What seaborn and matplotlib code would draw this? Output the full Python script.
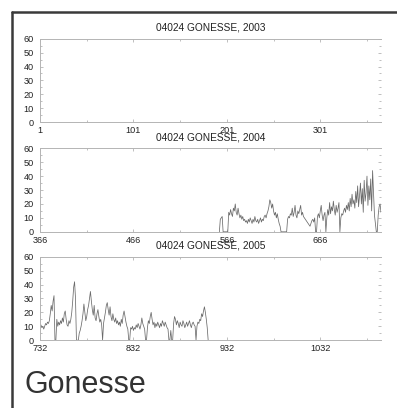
import numpy as np
import pandas as pd
import matplotlib
matplotlib.use("Agg")
import matplotlib.pyplot as plt
from matplotlib.lines import Line2D
from matplotlib.ticker import MultipleLocator, FixedLocator
import seaborn as sns

# Station / year panels
station = "04024 GONESSE"
years = [2003, 2004, 2005]
panel_start = [1, 366, 732]          # first day number shown on each panel
panel_ticks = [[1, 101, 201, 301], [366, 466, 566, 666], [732, 832, 932, 1032]]

# Daily values (day numbers counted from 1 Jan 2003)
start_2003 = None
values_2003 = []

start_2004 = 558
values_2004 = [
    0, 9, 10, 11,
    0, 0, 0, 0, 0, 0,
    14, 12, 16, 13, 11, 17, 15, 20, 14, 12, 17, 13, 10, 12, 9, 11, 8,
    9, 7, 8, 6, 9, 7, 10, 8, 6, 9, 7, 11, 8, 7, 9, 6, 8, 10, 7, 9, 8, 11, 12, 10, 13, 15,
    18, 23, 21, 17, 20,
    15, 12, 14, 10, 13, 9, 6, 4,
    0, 0, 0, 0, 0, 0, 0,
    9, 11, 10, 13, 12, 17, 11, 14, 19, 12, 10, 15, 13, 16, 19, 12,
    14, 11, 10, 9, 8, 7, 6, 5, 4, 6, 8, 9, 7, 10,
    0, 0,
    11, 13, 10, 15, 19, 12, 8, 12, 14,
    0,
    10, 16, 12, 21, 13, 18, 15, 22, 16, 12, 19, 14, 17, 21,
    0,
    10, 13, 12, 15, 17, 14, 19, 16, 21, 15, 24, 18, 27, 20, 23, 17, 29, 21, 33, 18,
    26, 35, 20, 31, 14, 37, 22, 28, 40, 19, 33, 23, 38, 15, 44, 28, 12, 6,
    0, 0,
    12, 18, 20, 14,
]

start_2005 = 732
values_2005 = [
    10, 11, 9, 10, 8, 10, 12, 11, 13, 12, 14, 19, 25, 21,
    28, 32,
    0, 0,
    15, 10, 13, 11, 14, 12, 16, 13, 19, 21, 15, 11, 10, 14, 12, 15, 20, 28, 38,
    42, 30,
    0, 0, 0,
    5, 7, 10, 14, 19, 26, 20, 14, 17, 22, 25, 30, 35, 28,
    22, 18, 25, 16, 14, 19, 22, 17, 13, 15, 11,
    0,
    12, 16, 20, 25, 27, 22, 18, 24, 17, 14, 19, 15,
    13, 16, 12, 14, 11, 13, 10, 15, 12, 18, 21, 17, 13, 10, 8,
    0, 0,
    9, 8, 10, 7, 9, 8, 11, 9, 12, 10, 8, 11, 16, 12, 10, 8,
    0, 0,
    9, 14, 12, 17, 20, 15, 11, 13, 9, 12, 10,
    13, 11, 9, 12, 10, 14, 12, 10, 13, 11, 9, 8,
    0, 0, 7, 0, 0,
    12, 17, 15, 11, 14, 12, 9, 13, 11, 10, 14, 12, 9, 11, 13, 10, 12, 14, 11, 9, 12, 13, 11, 10,
    0,
    10, 13, 12, 15, 14, 19, 17, 21, 24, 20, 15, 9,
    0,
]

series = [(start_2003, values_2003), (start_2004, values_2004), (start_2005, values_2005)]

sns.set_style("white")
plt.rcParams["font.family"] = ["Liberation Sans", "DejaVu Sans"]

W, H = 397, 408
fig = plt.figure(figsize=(W / 100, H / 100), dpi=100)

left, right = 40 / W, 381 / W
tops_px = [38.7, 148.3, 256.7]
height_px = 83.5

spine_col = "#b4b4b4"
line_col = "#6a6a6a"

for k, (year, x0, ticks, (s, vals)) in enumerate(zip(years, panel_start, panel_ticks, series)):
    bottom = 1 - (tops_px[k] + height_px) / H
    ax = fig.add_axes([left, bottom, right - left, height_px / H])
    if vals:
        df = pd.DataFrame({"day": np.arange(s, s + len(vals)), "value": vals})
        sns.lineplot(data=df, x="day", y="value", ax=ax, color=line_col,
                     linewidth=0.55, estimator=None, sort=False)
    ax.set_xlim(x0, x0 + 365)
    ax.set_ylim(0, 60)
    ax.set_xlabel("")
    ax.set_ylabel("")

    ax.xaxis.set_major_locator(FixedLocator(ticks))
    ax.xaxis.set_minor_locator(FixedLocator([t + 50 for t in ticks]))
    ax.set_xticklabels([str(t) for t in ticks])
    ax.yaxis.set_major_locator(MultipleLocator(10))
    ax.yaxis.set_minor_locator(MultipleLocator(5))

    ax.tick_params(axis="both", which="both", direction="in", colors=spine_col,
                   labelcolor="#222222", labelsize=6.6, width=0.6,
                   top=True, right=True, bottom=True, left=True)
    ax.tick_params(axis="both", which="major", length=2.4)
    ax.tick_params(axis="both", which="minor", length=1.4)
    ax.tick_params(axis="y", which="major", pad=4.3)
    ax.tick_params(axis="x", which="major", pad=3.0)

    for name, sp in ax.spines.items():
        sp.set_color(spine_col)
        sp.set_linewidth(0.7)
    ax.spines["right"].set_visible(False)

    ax.set_title(f"{station}, {year}", fontsize=7.3, color="#222222", pad=5.6)

# card frame (top and left edges)
frame_col = "#3a3a3a"
fig.add_artist(Line2D([11.5 / W, 1.0], [1 - 12 / H, 1 - 12 / H], color=frame_col,
                      linewidth=1.8, transform=fig.transFigure))
fig.add_artist(Line2D([12 / W, 12 / W], [0.0, 1 - 11.5 / H], color=frame_col,
                      linewidth=1.8, transform=fig.transFigure))

fig.text(24 / W, 1 - 393.3 / H, "Gonesse", fontsize=22, color="#333333",
         ha="left", va="baseline")

fig.savefig("out.png", dpi=100, facecolor="white")
